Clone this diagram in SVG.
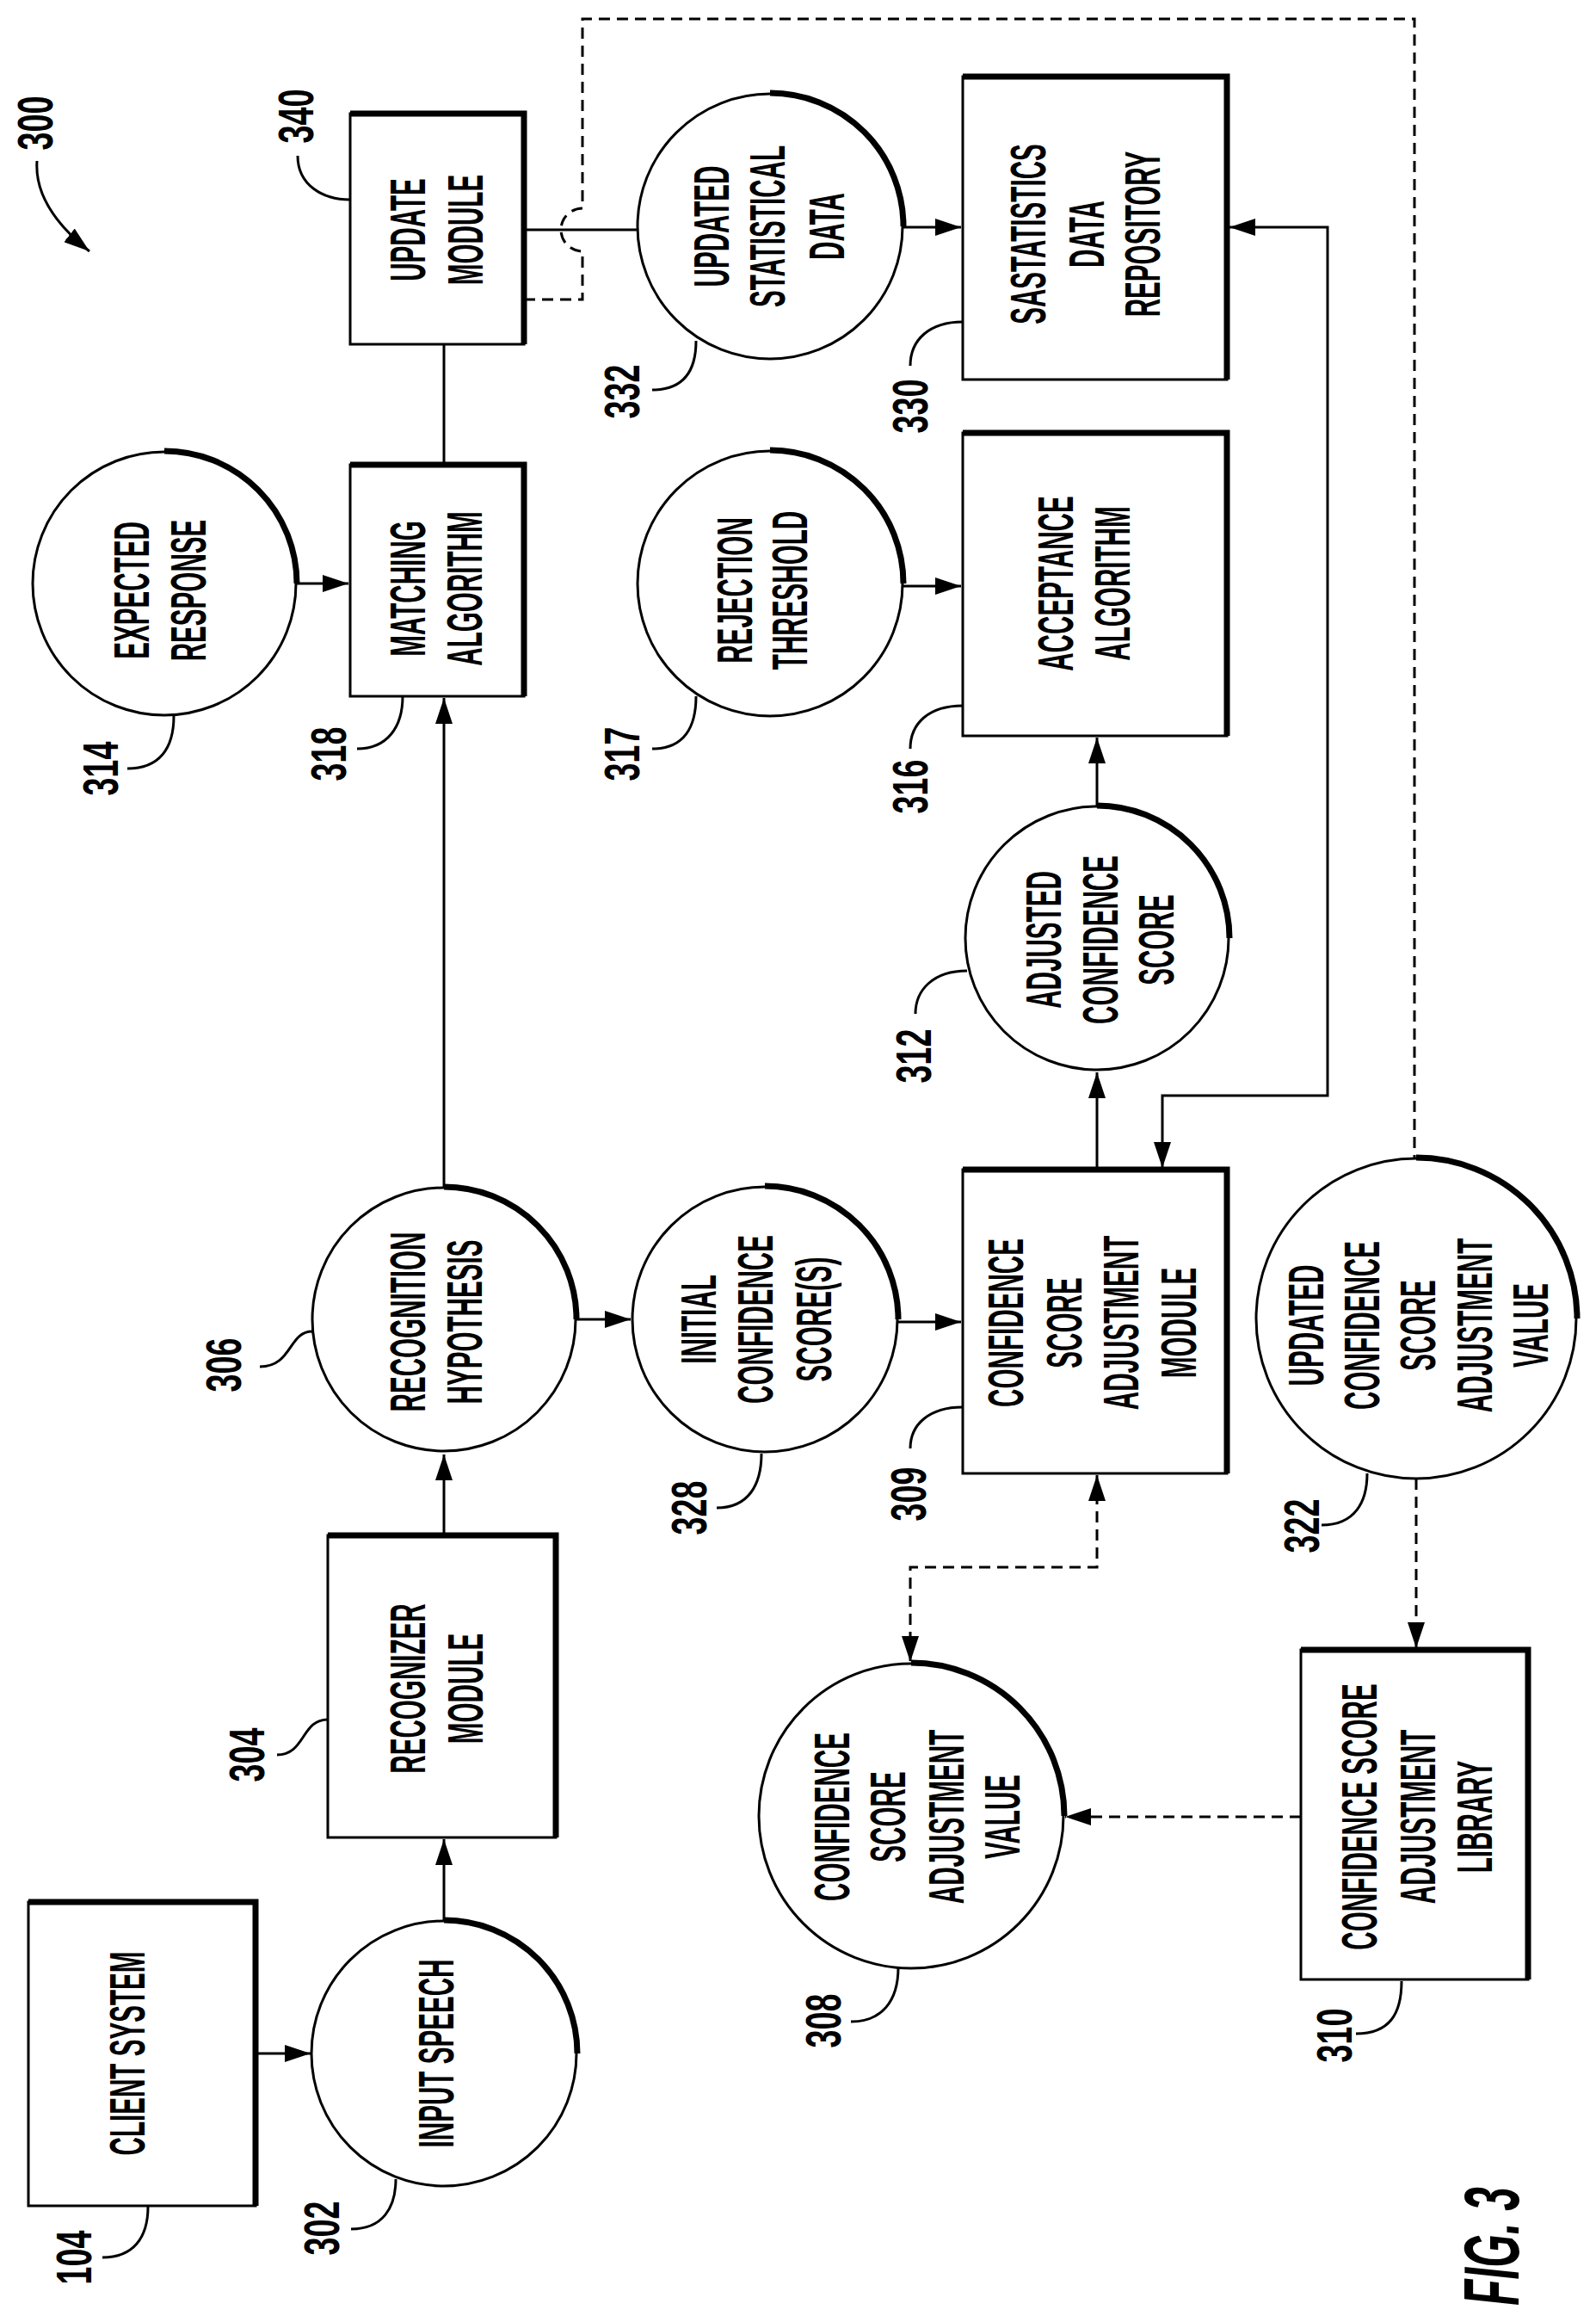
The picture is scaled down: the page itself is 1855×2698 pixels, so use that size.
<svg xmlns="http://www.w3.org/2000/svg" width="1855" height="2698" viewBox="0 0 1855 2698">
<defs>
<marker id="ah" markerUnits="userSpaceOnUse" markerWidth="32" markerHeight="20" refX="30" refY="10" orient="auto-start-reverse"><path d="M0,0 L30,10 L0,20 Z" fill="#000"/></marker>
<style>
.ln{fill:none;stroke:#000;stroke-width:3}
.ds{fill:none;stroke:#000;stroke-width:3;stroke-dasharray:13 8}
.nd{fill:#fff;stroke:#000;stroke-width:3}
.th{fill:none;stroke:#000;stroke-width:7}
.t{font-family:"Liberation Sans",Arial,sans-serif;font-weight:bold;font-size:57px;text-anchor:middle;fill:#000}
.n{font-family:"Liberation Sans",Arial,sans-serif;font-weight:bold;font-size:57px;text-anchor:middle;fill:#000}
.f{font-family:"Liberation Sans",Arial,sans-serif;font-weight:bold;font-style:italic;font-size:90px;text-anchor:middle;fill:#000}
</style>
</defs>
<rect width="1855" height="2698" fill="#fff"/>

<g id="connectors">
<path class="ln" d="M297,2386 H361" marker-end="url(#ah)"/>
<path class="ln" d="M516,2231 V2137" marker-end="url(#ah)"/>
<path class="ln" d="M516,1784 V1690" marker-end="url(#ah)"/>
<path class="ln" d="M516,1379 V811" marker-end="url(#ah)"/>
<path class="ln" d="M344,678 H405" marker-end="url(#ah)"/>
<path class="ln" d="M516,540 V400"/>
<path class="ln" d="M609,267 H741"/>
<path class="ln" d="M1049,264 H1117" marker-end="url(#ah)"/>
<path class="ln" d="M1049,681 H1117" marker-end="url(#ah)"/>
<path class="ln" d="M1275,937 V857" marker-end="url(#ah)"/>
<path class="ln" d="M1275,1359 V1246" marker-end="url(#ah)"/>
<path class="ln" d="M669,1533 H733" marker-end="url(#ah)"/>
<path class="ln" d="M1043,1536 H1117" marker-end="url(#ah)"/>
<path class="ln" d="M1429,264 H1543 V1273 H1351 V1357" marker-start="url(#ah)" marker-end="url(#ah)"/>
<path class="ds" d="M1275,1714 V1821 H1058 V1931" marker-start="url(#ah)" marker-end="url(#ah)"/>
<path class="ds" d="M1646,1718 V1915" marker-end="url(#ah)"/>
<path class="ds" d="M1512,2111 H1238" marker-end="url(#ah)"/>
<path class="ds" d="M609,348 H677 V292 A25,25 0 0 1 677,242 V22 H1644 V1345"/>
<path class="ln" d="M43,187 C40,230 70,265 104,292" marker-end="url(#ah)"/>
</g>

<g id="leaders" class="ln">
<path class="ln" d="M346,181 C346,215 375,232 407,232"/>
<path class="ln" d="M758,453 C795,453 809,430 809,396"/>
<path class="ln" d="M1058,425 C1058,395 1080,374 1119,374"/>
<path class="ln" d="M148,893 C185,893 202,870 202,832"/>
<path class="ln" d="M415,870 C450,870 468,845 468,809"/>
<path class="ln" d="M758,870 C795,870 809,845 809,809"/>
<path class="ln" d="M1058,870 C1058,840 1080,820 1119,820"/>
<path class="ln" d="M1064,1178 C1064,1150 1085,1128 1124,1128"/>
<path class="ln" d="M302,1588 C340,1588 335,1547 363,1547"/>
<path class="ln" d="M833,1752 C870,1752 885,1725 885,1689"/>
<path class="ln" d="M1058,1683 C1058,1655 1080,1635 1119,1635"/>
<path class="ln" d="M1536,1772 C1575,1772 1589,1745 1589,1712"/>
<path class="ln" d="M322,2039 C355,2039 350,1998 381,1998"/>
<path class="ln" d="M408,2590 C445,2590 460,2565 460,2532"/>
<path class="ln" d="M119,2623 C155,2623 172,2600 172,2564"/>
<path class="ln" d="M989,2349 C1025,2349 1044,2325 1044,2286"/>
<path class="ln" d="M1576,2363 C1615,2363 1629,2340 1629,2302"/>
</g>

<g id="n104"><rect class="nd" x="33" y="2210" width="264" height="353"/><path class="th" d="M33,2210 H297 V2563"/>
<text class="t" transform="translate(0,2386) rotate(-90) scale(0.52,1)"><tspan x="0" y="168">CLIENT SYSTEM</tspan></text></g>

<g id="n302"><circle class="nd" cx="516" cy="2386" r="154"/><path class="th" d="M516,2231 A155,155 0 0 1 671,2386"/>
<text class="t" transform="translate(0,2386) rotate(-90) scale(0.52,1)"><tspan x="0" y="527">INPUT SPEECH</tspan></text></g>

<g id="n304"><rect class="nd" x="381" y="1784" width="265" height="351"/><path class="th" d="M381,1784 H646 V2135"/>
<text class="t" transform="translate(0,1962) rotate(-90) scale(0.52,1)"><tspan x="0" y="494">RECOGNIZER</tspan><tspan x="0" y="561">MODULE</tspan></text></g>

<g id="n306"><circle class="nd" cx="516" cy="1533" r="153"/><path class="th" d="M516,1379 A154,154 0 0 1 670,1533"/>
<text class="t" transform="translate(0,1536) rotate(-90) scale(0.52,1)"><tspan x="0" y="494">RECOGNITION</tspan><tspan x="0" y="560">HYPOTHESIS</tspan></text></g>

<g id="n328"><circle class="nd" cx="889" cy="1533" r="154"/><path class="th" d="M889,1378 A155,155 0 0 1 1044,1533"/>
<text class="t" transform="translate(0,1533) rotate(-90) scale(0.52,1)"><tspan x="0" y="832">INITIAL</tspan><tspan x="0" y="898">CONFIDENCE</tspan><tspan x="0" y="966">SCORE(S)</tspan></text></g>

<g id="n309"><rect class="nd" x="1119" y="1359" width="307" height="353"/><path class="th" d="M1119,1359 H1426 V1712"/>
<text class="t" transform="translate(0,1537) rotate(-90) scale(0.52,1)"><tspan x="0" y="1189">CONFIDENCE</tspan><tspan x="0" y="1257">SCORE</tspan><tspan x="0" y="1323">ADJUSTMENT</tspan><tspan x="0" y="1390">MODULE</tspan></text></g>

<g id="n312"><circle class="nd" cx="1275" cy="1090" r="153"/><path class="th" d="M1275,936 A154,154 0 0 1 1429,1090"/>
<text class="t" transform="translate(0,1092) rotate(-90) scale(0.52,1)"><tspan x="0" y="1233">ADJUSTED</tspan><tspan x="0" y="1299">CONFIDENCE</tspan><tspan x="0" y="1364">SCORE</tspan></text></g>

<g id="n316"><rect class="nd" x="1119" y="503" width="307" height="352"/><path class="th" d="M1119,503 H1426 V855"/>
<text class="t" transform="translate(0,678) rotate(-90) scale(0.52,1)"><tspan x="0" y="1247">ACCEPTANCE</tspan><tspan x="0" y="1313">ALGORITHM</tspan></text></g>

<g id="n317"><circle class="nd" cx="895" cy="678" r="154"/><path class="th" d="M895,523 A155,155 0 0 1 1050,678"/>
<text class="t" transform="translate(0,686) rotate(-90) scale(0.52,1)"><tspan x="0" y="874">REJECTION</tspan><tspan x="0" y="938">THRESHOLD</tspan></text></g>

<g id="n330"><rect class="nd" x="1119" y="89" width="307" height="352"/><path class="th" d="M1119,89 H1426 V441"/>
<text class="t" transform="translate(0,272) rotate(-90) scale(0.52,1)"><tspan x="0" y="1215">SASTATISTICS</tspan><tspan x="0" y="1283">DATA</tspan><tspan x="0" y="1348">REPOSITORY</tspan></text></g>

<g id="n332"><circle class="nd" cx="895" cy="263" r="154"/><path class="th" d="M895,108 A155,155 0 0 1 1050,263"/>
<text class="t" transform="translate(0,263) rotate(-90) scale(0.52,1)"><tspan x="0" y="847">UPDATED</tspan><tspan x="0" y="912">STATISTICAL</tspan><tspan x="0" y="981">DATA</tspan></text></g>

<g id="n340"><rect class="nd" x="407" y="132" width="202" height="268"/><path class="th" d="M407,132 H609 V400"/>
<text class="t" transform="translate(0,267) rotate(-90) scale(0.52,1)"><tspan x="0" y="494">UPDATE</tspan><tspan x="0" y="561">MODULE</tspan></text></g>

<g id="n318"><rect class="nd" x="407" y="540" width="202" height="269"/><path class="th" d="M407,540 H609 V809"/>
<text class="t" transform="translate(0,684) rotate(-90) scale(0.52,1)"><tspan x="0" y="494">MATCHING</tspan><tspan x="0" y="560">ALGORITHM</tspan></text></g>

<g id="n314"><circle class="nd" cx="191" cy="678" r="153"/><path class="th" d="M191,524 A154,154 0 0 1 345,678"/>
<text class="t" transform="translate(0,686) rotate(-90) scale(0.52,1)"><tspan x="0" y="173">EXPECTED</tspan><tspan x="0" y="239">RESPONSE</tspan></text></g>

<g id="n322"><circle class="nd" cx="1646" cy="1532" r="186"/><path class="th" d="M1646,1345 A187,187 0 0 1 1833,1532"/>
<text class="t" transform="translate(0,1540) rotate(-90) scale(0.52,1)"><tspan x="0" y="1538">UPDATED</tspan><tspan x="0" y="1603">CONFIDENCE</tspan><tspan x="0" y="1668">SCORE</tspan><tspan x="0" y="1734">ADJUSTMENT</tspan><tspan x="0" y="1799">VALUE</tspan></text></g>

<g id="n308"><circle class="nd" cx="1059" cy="2110" r="177"/><path class="th" d="M1059,1932 A178,178 0 0 1 1237,2110"/>
<text class="t" transform="translate(0,2111) rotate(-90) scale(0.52,1)"><tspan x="0" y="987">CONFIDENCE</tspan><tspan x="0" y="1052">SCORE</tspan><tspan x="0" y="1120">ADJUSTMENT</tspan><tspan x="0" y="1185">VALUE</tspan></text></g>

<g id="n310"><rect class="nd" x="1512" y="1917" width="264" height="383"/><path class="th" d="M1512,1917 H1776 V2300"/>
<text class="t" transform="translate(0,2111) rotate(-90) scale(0.52,1)"><tspan x="0" y="1600">CONFIDENCE SCORE</tspan><tspan x="0" y="1668">ADJUSTMENT</tspan><tspan x="0" y="1734">LIBRARY</tspan></text></g>

<g id="labels">
<text class="n" transform="translate(61,143) rotate(-90) scale(0.66,1)">300</text>
<text class="n" transform="translate(364,135) rotate(-90) scale(0.66,1)">340</text>
<text class="n" transform="translate(402,876) rotate(-90) scale(0.66,1)">318</text>
<text class="n" transform="translate(137,893) rotate(-90) scale(0.66,1)">314</text>
<text class="n" transform="translate(743,455) rotate(-90) scale(0.66,1)">332</text>
<text class="n" transform="translate(743,876) rotate(-90) scale(0.66,1)">317</text>
<text class="n" transform="translate(1078,472) rotate(-90) scale(0.66,1)">330</text>
<text class="n" transform="translate(1078,914) rotate(-90) scale(0.66,1)">316</text>
<text class="n" transform="translate(1082,1227) rotate(-90) scale(0.66,1)">312</text>
<text class="n" transform="translate(280,1586) rotate(-90) scale(0.66,1)">306</text>
<text class="n" transform="translate(821,1752) rotate(-90) scale(0.66,1)">328</text>
<text class="n" transform="translate(1076,1736) rotate(-90) scale(0.66,1)">309</text>
<text class="n" transform="translate(1533,1773) rotate(-90) scale(0.66,1)">322</text>
<text class="n" transform="translate(307,2039) rotate(-90) scale(0.66,1)">304</text>
<text class="n" transform="translate(394,2589) rotate(-90) scale(0.66,1)">302</text>
<text class="n" transform="translate(106,2623) rotate(-90) scale(0.66,1)">104</text>
<text class="n" transform="translate(977,2348) rotate(-90) scale(0.66,1)">308</text>
<text class="n" transform="translate(1571,2365) rotate(-90) scale(0.66,1)">310</text>
<text class="f" transform="translate(1765,2610) rotate(-90) scale(0.55,1)">FIG. 3</text>
</g>
</svg>
